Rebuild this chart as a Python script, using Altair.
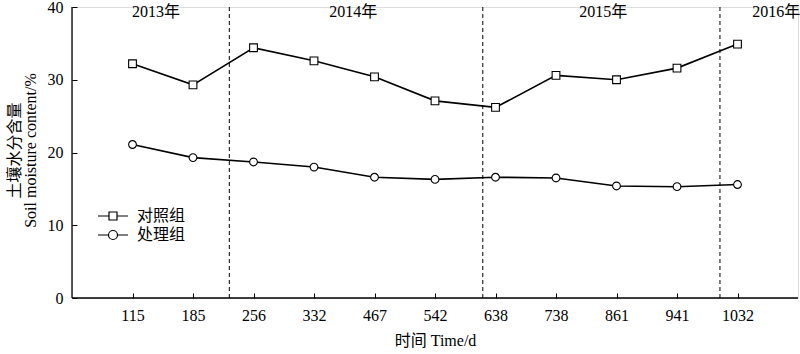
import altair as alt
import pandas as pd

# ---- data ----
days = ["115", "185", "256", "332", "467", "542", "638", "738", "861", "941", "1032"]
control = [32.2, 29.3, 34.4, 32.6, 30.4, 27.1, 26.2, 30.6, 30.0, 31.6, 34.9]
treatment = [21.1, 19.3, 18.7, 18.0, 16.6, 16.3, 16.6, 16.5, 15.4, 15.3, 15.6]
groups = ["对照组", "处理组"]
year_labels = ["2013年", "2014年", "2015年", "2016年"]
year_label_pos = [0.39, 3.65, 7.78, 10.64]      # position along the sampling index
year_boundaries = [1.6, 5.79, 9.71]            # dashed separators (sampling index)
y_ticks = [0, 10, 20, 30, 40]

FONT = "Liberation Serif, Times New Roman, Noto Sans CJK SC"

idx = list(range(len(days)))
df = pd.DataFrame({
    "idx": idx * 2,
    "day": days * 2,
    "value": control + treatment,
    "group": [groups[0]] * len(days) + [groups[1]] * len(days),
})
df_years = pd.DataFrame({"x": year_label_pos, "label": year_labels})
df_bound = pd.DataFrame({"x": year_boundaries})

label_expr = "[" + ",".join("'" + d + "'" for d in days) + "][datum.value]"

x_scale = alt.Scale(domain=[-1, 11], nice=False, zero=False)
y_scale = alt.Scale(domain=[0, 40], nice=False)

x_axis = alt.Axis(
    values=idx, labelExpr=label_expr, domain=False, grid=False,
    tickSize=5, tickColor="black", tickWidth=1, offset=-5,
    labelPadding=9, labelFontSize=16, labelColor="black", labelFont=FONT,
    title="时间 Time/d", titleFontSize=16, titleFont=FONT, titleFontWeight="normal",
    titleColor="black", titlePadding=9,
)
y_axis = alt.Axis(
    values=y_ticks, domain=False, grid=False,
    tickSize=5, tickColor="black", tickWidth=1, offset=-5,
    labelPadding=9, labelFontSize=16, labelColor="black", labelFont=FONT,
    title=["土壤水分含量", "Soil moisture content/%"], titleFontSize=16, titleFont=FONT,
    titleFontWeight="normal", titleColor="black", titleLineHeight=16,
    titleX=-63, titleY=143, titleAngle=270, titleAlign="center", titleBaseline="middle",
)

base = alt.Chart(df)

lines = base.mark_line(color="black", strokeWidth=1.6).encode(
    x=alt.X("idx:Q", scale=x_scale, axis=x_axis),
    y=alt.Y("value:Q", scale=y_scale, axis=y_axis),
    detail="group:N",
)

points = base.mark_point(filled=True, fill="white", stroke="black", strokeWidth=1.1, size=60, opacity=1).encode(
    x=alt.X("idx:Q", scale=x_scale),
    y=alt.Y("value:Q", scale=y_scale),
    shape=alt.Shape("group:N", scale=alt.Scale(domain=groups, range=["square", "circle"]), legend=None),
)

sq_path = "M-1.5,0L-0.4,0M0.4,0L1.5,0M-0.4,-0.4L0.4,-0.4L0.4,0.4L-0.4,0.4Z"
ci_path = "M-1.5,0L-0.45,0M0.45,0L1.5,0M0.45,0A0.45,0.45,0,1,1,-0.45,0A0.45,0.45,0,1,1,0.45,0Z"

legend_layer = base.transform_filter("false").mark_point(
    filled=False, color="black", strokeWidth=1.2, size=400, opacity=1
).encode(
    x=alt.X("idx:Q", scale=x_scale),
    y=alt.Y("value:Q", scale=y_scale),
    shape=alt.Shape(
        "group:N",
        scale=alt.Scale(domain=groups, range=[sq_path, ci_path]),
        legend=alt.Legend(
            title=None, orient="none", legendX=30, legendY=198, padding=0,
            symbolSize=400, symbolStrokeWidth=1.2, symbolStrokeColor="black",
            symbolOpacity=1, labelFontSize=16, labelFont=FONT, labelColor="black",
            labelOffset=13, rowPadding=0,
        ),
    ),
)

bounds = alt.Chart(df_bound).mark_rule(color="black", strokeWidth=1, strokeDash=[4, 3]).encode(
    x=alt.X("x:Q", scale=x_scale),
)

years = alt.Chart(df_years).mark_text(font=FONT, fontSize=16, color="black", baseline="middle").encode(
    x=alt.X("x:Q", scale=x_scale),
    y=alt.value(5),
    text="label:N",
)

y_domain = alt.Chart(pd.DataFrame({"x": [-1]})).mark_rule(color="black", strokeWidth=1.3).encode(
    x=alt.X("x:Q", scale=x_scale),
)
x_domain = alt.Chart(pd.DataFrame({"y": [0]})).mark_rule(color="black", strokeWidth=1.3).encode(
    y=alt.Y("y:Q", scale=y_scale),
)

chart = alt.layer(
    bounds, y_domain, x_domain, lines, points, legend_layer, years
).resolve_scale(shape="independent").properties(
    width=726, height=291,
    autosize=alt.AutoSizeParams(type="none"),
    padding={"left": 72, "top": 7, "right": 2, "bottom": 56},
).configure_view(stroke=None).configure(background="white")

chart.save("out.html", embed_options={"renderer": "svg", "actions": False})
